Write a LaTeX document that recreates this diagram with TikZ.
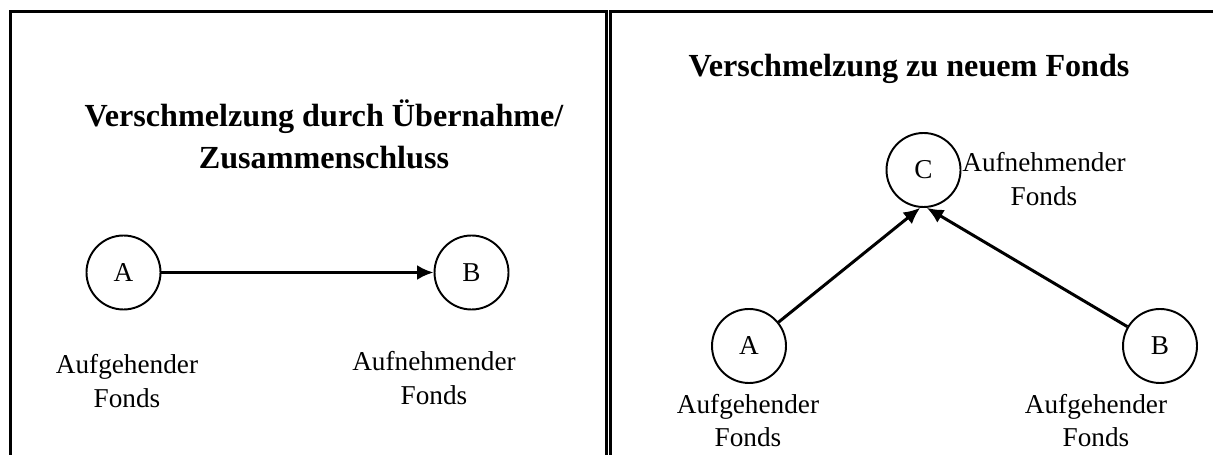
\documentclass[tikz,border=0pt]{standalone}
\usepackage{fontspec}
\setmainfont{Liberation Serif}
\usetikzlibrary{arrows.meta, positioning}

\tikzset{
  fonds/.style={draw,circle,line width=1.1pt,minimum size=1.48cm,inner sep=0pt,font=\fontsize{15.5}{19}\selectfont},
  beschr/.style={align=center,inner sep=0pt,font=\fontsize{15.5}{19.2}\selectfont},
  titel/.style={align=center,inner sep=0pt,font=\fontsize{18.3}{23.9}\selectfont\bfseries},
  pfeil/.style={line width=1.7pt,-{Latex[length=0.33cm,width=0.3cm]}},
  rahmen/.style={line width=1.7pt}
}

\begin{document}
\begin{tikzpicture}
\useasboundingbox (0,0) rectangle (24.26,9.1);

% Rahmen
\draw[rahmen] (0.21,0) -- (0.21,8.87) -- (12.13,8.87) -- (12.13,0);
\draw[rahmen] (12.21,0) -- (12.21,8.87) -- (24.26,8.87);

% links: Uebernahme
\node[titel] (tl) at (6.48,6.42) {Verschmelzung durch Übernahme/\\Zusammenschluss};
\node[fonds] (la) at (2.47,3.65) {A};
\node[fonds] (lb) at (9.43,3.65) {B};
\node[beschr] (lat) at (2.54,1.48) {Aufgehender\\Fonds};
\node[beschr] (lbt) at (8.68,1.54) {Aufnehmender\\Fonds};

\draw[pfeil] (la) to (lb);

% rechts: neuer Fonds
\node[titel] (tr) at (18.18,7.72) {Verschmelzung zu neuem Fonds};
\node[fonds] (rc) at (18.47,5.7) {C};
\node[fonds] (ra) at (14.98,2.18) {A};
\node[fonds] (rb) at (23.2,2.18) {B};
\node[beschr] (rct) at (20.88,5.52) {Aufnehmender\\Fonds};
\node[beschr] (rat) at (14.96,0.69) {Aufgehender\\Fonds};
\node[beschr] (rbt) at (21.92,0.69) {Aufgehender\\Fonds};

\draw[pfeil] (ra) to (rc.-95);
\draw[pfeil] (rb) to (rc.-85);
\end{tikzpicture}
\end{document}
